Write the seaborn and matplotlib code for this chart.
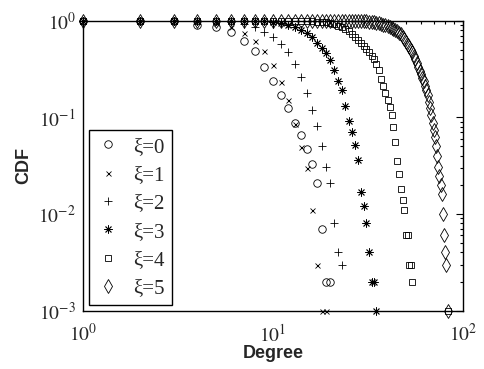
import numpy as np
import pandas as pd
import seaborn as sns
import matplotlib
matplotlib.use("Agg")
import matplotlib.pyplot as plt
from matplotlib.ticker import LogLocator, NullFormatter, FuncFormatter

# Complementary degree distributions for six values of xi
deg0 = list(range(1, 21))
cdf0 = [1.0, 1.0, 1.0, 0.91, 0.85, 0.76, 0.62, 0.48, 0.33, 0.24,
        0.17, 0.124, 0.087, 0.066, 0.047, 0.033, 0.021, 0.007, 0.002, 0.002]

deg1 = list(range(1, 20))
cdf1 = [1.0, 1.0, 1.0, 0.99, 0.95, 0.85, 0.74, 0.61, 0.48, 0.35,
        0.234, 0.151, 0.085, 0.049, 0.030, 0.011, 0.003, 0.001, 0.001]

deg2 = list(range(1, 24))
cdf2 = [1.0, 1.0, 1.0, 1.0, 1.0, 0.98, 0.93, 0.85, 0.77, 0.68,
        0.58, 0.47, 0.36, 0.26, 0.18, 0.118, 0.082, 0.051, 0.031, 0.021,
        0.008, 0.004, 0.003]

deg3 = list(range(1, 36))
cdf3 = [1.0, 1.0, 1.0, 1.0, 1.0, 1.0, 1.0, 1.0, 0.99, 0.98,
        0.95, 0.90, 0.86, 0.81, 0.74, 0.67, 0.59, 0.52, 0.46, 0.39,
        0.31, 0.24, 0.19, 0.13, 0.092, 0.070, 0.052, 0.036, 0.017, 0.012,
        0.008, 0.004, 0.002, 0.002, 0.001]

deg4 = list(range(1, 55)) + [83]
cdf4 = [1.0, 1.0, 1.0, 1.0, 1.0, 1.0, 1.0, 1.0, 1.0, 1.0,
        1.0, 1.0, 1.0, 1.0, 0.995, 0.99, 0.98, 0.97, 0.96, 0.94,
        0.92, 0.89, 0.86, 0.82, 0.78, 0.73, 0.68, 0.63, 0.59, 0.55,
        0.51, 0.47, 0.43, 0.40, 0.36, 0.31, 0.25, 0.21, 0.177, 0.15,
        0.127, 0.106, 0.079, 0.056, 0.035, 0.026, 0.018, 0.014, 0.011, 0.006,
        0.006, 0.003, 0.003, 0.002, 0.001]

deg5 = list(range(1, 82)) + [83]
cdf5 = [1.0] * 28 + [
        0.995, 0.99, 0.985, 0.98, 0.97, 0.96, 0.95, 0.94, 0.93, 0.91,
        0.90, 0.88, 0.86, 0.84, 0.82, 0.80, 0.78, 0.75, 0.72, 0.68,
        0.64, 0.60, 0.565, 0.53, 0.50, 0.47, 0.435, 0.40, 0.365, 0.33,
        0.305, 0.28, 0.255, 0.235, 0.21, 0.19, 0.17, 0.145, 0.125, 0.105,
        0.088, 0.074, 0.062, 0.050, 0.040, 0.031, 0.025, 0.020, 0.016, 0.010,
        0.006, 0.004, 0.003, 0.001]

series_labels = ["ξ=0", "ξ=1", "ξ=2", "ξ=3", "ξ=4", "ξ=5"]
series_deg = [deg0, deg1, deg2, deg3, deg4, deg5]
series_cdf = [cdf0, cdf1, cdf2, cdf3, cdf4, cdf5]

x_ticks = [1, 10, 100]
y_ticks = [1e-3, 1e-2, 1e-1, 1]

sns.set_style("white")
plt.rcParams["font.family"] = ["Liberation Sans", "DejaVu Sans"]
plt.rcParams["mathtext.fontset"] = "stix"

marker_styles = [
    dict(marker="o", markersize=5.4, markerfacecolor="none"),
    dict(marker="x", markersize=3.6),
    dict(marker="+", markersize=5.8),
    dict(marker=(8, 2, 0), markersize=5.8),
    dict(marker="s", markersize=4.8, markerfacecolor="none"),
    dict(marker="d", markersize=6.8, markerfacecolor="none"),
]

fig = plt.figure(figsize=(4.85, 3.69), dpi=100)
ax = fig.add_axes([0.171, 0.158, 0.784, 0.786])
ax.set_xscale("log")
ax.set_yscale("log")

for lab, d, c, st in zip(series_labels, series_deg, series_cdf, marker_styles):
    df = pd.DataFrame({"Degree": d, "CDF": c})
    sns.lineplot(data=df, x="Degree", y="CDF", ax=ax, label=lab,
                 linestyle="", color="black", markeredgecolor="black",
                 markeredgewidth=0.6, clip_on=False, **st)

ax.set_xlim(1, 100)
ax.set_ylim(1e-3, 1)
ax.set_xticks(x_ticks)
ax.set_yticks(y_ticks)

power_fmt = FuncFormatter(lambda v, pos: r"$10^{%d}$" % int(round(np.log10(v))))
ax.xaxis.set_major_formatter(power_fmt)
ax.yaxis.set_major_formatter(power_fmt)
ax.xaxis.set_minor_locator(LogLocator(base=10, subs=np.arange(2, 10)))
ax.yaxis.set_minor_locator(LogLocator(base=10, subs=np.arange(2, 10)))
ax.xaxis.set_minor_formatter(NullFormatter())
ax.yaxis.set_minor_formatter(NullFormatter())
ax.tick_params(which="both", direction="in", top=True, right=True,
               color="black", width=0.8)
ax.tick_params(which="major", length=5, labelsize=14, pad=5)
ax.tick_params(axis="x", which="major", pad=9)
ax.tick_params(which="minor", length=2.5)
for sp in ax.spines.values():
    sp.set_color("black")
    sp.set_linewidth(1.0)

ax.set_xlabel("Degree", fontsize=13, fontweight="bold", labelpad=0)
ax.set_ylabel("CDF", fontsize=13, fontweight="bold", labelpad=4)

leg = ax.legend(loc="lower left", bbox_to_anchor=(0.015, 0.018),
                frameon=True, fancybox=False, edgecolor="black",
                framealpha=1, borderaxespad=0, handlelength=1.2,
                handletextpad=0.6, labelspacing=0.42, borderpad=0.35,
                prop={"family": "Liberation Serif", "size": 15})
leg.get_frame().set_linewidth(1.0)

fig.savefig("out.png", dpi=100)
